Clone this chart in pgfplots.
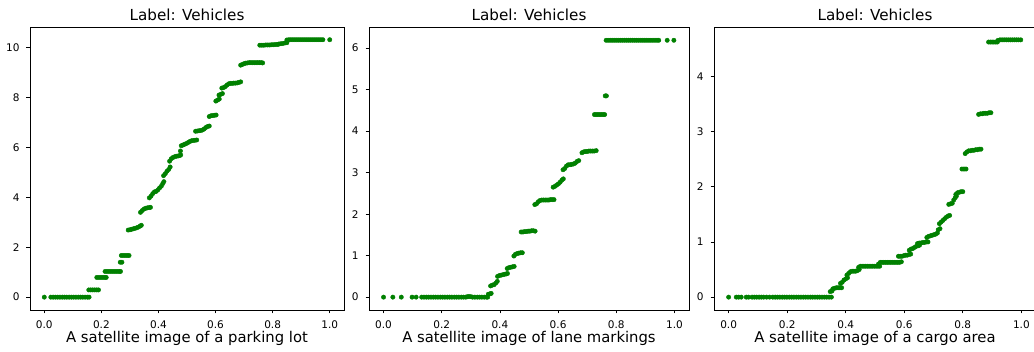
\documentclass[border=0pt]{standalone}
\usepackage{fontspec}
\setmainfont{DejaVu Sans}
\usepackage{pgfplots}
\pgfplotsset{compat=1.18}

\definecolor{dotgreen}{RGB}{0,128,0}

\pgfplotsset{
  panel/.style={
    scale only axis,
    anchor=south west,
    height=283pt,
    xmin=-0.05, xmax=1.05,
    axis line style={line width=0.8pt, black},
    tick style={line width=0.8pt, black},
    tick align=outside,
    major tick length=3.5pt,
    xtick pos=bottom, ytick pos=left,
    xtick={0,0.2,0.4,0.6,0.8,1.0},
    xticklabel style={/pgf/number format/fixed, /pgf/number format/fixed zerofill, /pgf/number format/precision=1, yshift=-3.5pt},
    yticklabel style={xshift=-3.5pt},
    /pgf/number format/assume math mode=true,
    tick label style={font=\fontsize{10.5}{12}\selectfont},
    title style={font=\fontsize{15.2}{17}\selectfont, at={(0.5,1)}, anchor=base, yshift=0pt},
    xlabel style={font=\fontsize{14.8}{17}\selectfont, at={(0.5,0)}, anchor=base, yshift=-33pt},
    title={Label: Vehicles},
    clip=false,
  },
  dots/.style={only marks, mark=*, mark size=2.2pt, color=dotgreen, mark options={draw=dotgreen, fill=dotgreen}},
}

\begin{document}
\begin{tikzpicture}[x=1pt,y=1pt]
\path[use as bounding box] (0,0) rectangle (1034,352);

% ---------- parking lot ----------
\begin{axis}[panel, at={(30pt,42pt)}, width=314pt,
  ymin=-0.515, ymax=10.83, ytick={0,2,4,6,8,10},
  xlabel={A satellite image of a parking lot}]
\addplot[dots] coordinates {
(0,0)
(0.023,0)(0.031,0)(0.039,0)(0.047,0)(0.055,0)(0.063,0)(0.071,0)(0.079,0)(0.087,0)(0.095,0)(0.103,0)(0.111,0)(0.119,0)(0.127,0)(0.135,0)(0.143,0)(0.151,0)(0.157,0)
(0.156,0.29)(0.163,0.29)(0.170,0.29)(0.177,0.29)(0.184,0.29)(0.190,0.29)
(0.184,0.79)(0.191,0.79)(0.198,0.79)(0.205,0.79)(0.212,0.79)(0.217,0.79)
(0.213,1.03)(0.220,1.03)(0.227,1.03)(0.234,1.03)(0.241,1.03)(0.248,1.03)(0.255,1.03)(0.262,1.03)(0.267,1.03)
(0.266,1.40)(0.272,1.40)
(0.270,1.67)(0.277,1.67)(0.284,1.67)(0.291,1.67)(0.297,1.67)
(0.294,2.69)(0.300,2.70)(0.306,2.72)(0.312,2.74)(0.318,2.76)(0.324,2.78)(0.330,2.81)(0.336,2.85)(0.340,2.88)
(0.337,3.40)(0.343,3.47)(0.349,3.53)(0.355,3.56)(0.361,3.58)(0.367,3.59)(0.372,3.60)
(0.368,3.98)(0.374,4.05)(0.380,4.15)(0.386,4.22)(0.392,4.24)(0.398,4.30)(0.404,4.38)(0.410,4.45)(0.415,4.55)(0.419,4.63)
(0.418,4.87)(0.424,4.95)(0.430,5.05)(0.436,5.12)(0.441,5.22)
(0.439,5.45)(0.445,5.55)(0.451,5.60)(0.457,5.63)(0.463,5.65)(0.469,5.66)(0.475,5.68)(0.478,5.70)(0.477,5.86)
(0.480,6.07)(0.486,6.10)(0.492,6.13)(0.498,6.16)(0.504,6.20)(0.510,6.24)(0.516,6.27)(0.522,6.28)(0.528,6.29)(0.534,6.30)
(0.530,6.65)(0.536,6.66)(0.542,6.67)(0.548,6.68)(0.554,6.70)(0.560,6.74)(0.566,6.80)(0.572,6.84)(0.578,6.86)
(0.578,7.24)(0.584,7.27)(0.590,7.28)(0.596,7.29)(0.602,7.30)
(0.601,7.86)(0.607,7.90)(0.613,7.94)
(0.612,8.10)(0.618,8.13)(0.624,8.16)
(0.622,8.38)(0.628,8.40)(0.634,8.44)(0.640,8.50)(0.646,8.55)(0.652,8.57)(0.658,8.57)(0.664,8.58)(0.670,8.58)(0.676,8.59)(0.682,8.61)(0.688,8.63)
(0.688,9.30)(0.694,9.33)(0.700,9.36)(0.706,9.38)(0.712,9.39)(0.718,9.40)(0.724,9.40)(0.730,9.40)(0.736,9.40)(0.742,9.40)(0.748,9.40)(0.754,9.40)(0.760,9.40)(0.765,9.39)
(0.755,10.10)(0.762,10.10)(0.769,10.10)(0.776,10.11)(0.783,10.11)(0.790,10.11)(0.797,10.12)(0.804,10.12)(0.811,10.13)(0.818,10.13)
(0.822,10.15)(0.829,10.16)(0.836,10.17)(0.843,10.19)(0.850,10.20)
(0.850,10.31)(0.857,10.32)(0.864,10.32)(0.871,10.32)(0.878,10.32)(0.885,10.32)(0.892,10.32)(0.899,10.32)(0.906,10.32)(0.913,10.32)(0.920,10.32)(0.927,10.32)(0.934,10.32)(0.941,10.32)(0.948,10.32)(0.955,10.32)(0.962,10.32)(0.969,10.32)(0.976,10.32)
(1.0,10.32)
};
\end{axis}

% ---------- lane markings ----------
\begin{axis}[panel, at={(369pt,42pt)}, width=320pt,
  ymin=-0.31, ymax=6.51, ytick={0,1,2,3,4,5,6},
  xlabel={A satellite image of lane markings}]
\addplot[dots] coordinates {
(0,0)(0.032,0)(0.061,0)(0.098,0)(0.112,0)
(0.131,0)(0.139,0)(0.147,0)(0.155,0)(0.163,0)(0.171,0)(0.179,0)(0.187,0)(0.195,0)(0.203,0)(0.211,0)(0.219,0)(0.227,0)(0.235,0)(0.243,0)(0.251,0)(0.259,0)(0.267,0)(0.275,0)(0.283,0)
(0.288,0.01)(0.294,0.015)(0.300,0.01)
(0.306,0)(0.314,0)(0.322,0)(0.330,0)(0.338,0)(0.346,0)(0.354,0)(0.358,0)
(0.360,0.07)(0.366,0.08)(0.370,0.09)
(0.368,0.27)(0.374,0.29)(0.380,0.30)(0.386,0.34)(0.391,0.38)
(0.392,0.50)(0.398,0.52)(0.404,0.53)(0.410,0.54)(0.416,0.55)(0.422,0.56)(0.426,0.57)
(0.425,0.69)(0.431,0.71)(0.437,0.72)(0.443,0.73)(0.449,0.74)
(0.448,0.99)(0.453,1.03)(0.459,1.05)(0.465,1.06)(0.471,1.07)(0.477,1.07)
(0.473,1.57)(0.479,1.57)(0.485,1.58)(0.491,1.58)(0.497,1.59)(0.503,1.59)(0.509,1.60)(0.515,1.60)(0.521,1.59)
(0.520,2.23)(0.526,2.25)(0.532,2.30)(0.538,2.33)(0.544,2.34)(0.550,2.34)(0.556,2.34)(0.562,2.34)(0.568,2.34)(0.574,2.35)(0.580,2.35)(0.586,2.35)
(0.583,2.65)(0.589,2.67)(0.595,2.70)(0.601,2.73)(0.607,2.77)(0.613,2.82)(0.618,2.85)
(0.617,3.07)(0.623,3.10)(0.629,3.16)(0.635,3.19)(0.641,3.19)(0.647,3.20)(0.653,3.21)(0.659,3.23)(0.665,3.27)(0.671,3.29)
(0.682,3.48)(0.688,3.50)(0.694,3.51)(0.700,3.51)(0.706,3.52)(0.712,3.52)(0.718,3.52)(0.724,3.52)(0.731,3.53)
(0.725,4.40)(0.731,4.40)(0.737,4.40)(0.743,4.40)(0.749,4.40)(0.755,4.40)(0.760,4.40)
(0.762,4.85)(0.766,4.85)
(0.765,6.19)(0.772,6.19)(0.779,6.19)(0.786,6.19)(0.793,6.19)(0.800,6.19)(0.807,6.19)(0.814,6.19)(0.821,6.19)(0.828,6.19)(0.835,6.19)(0.842,6.19)(0.849,6.19)(0.856,6.19)(0.863,6.19)(0.870,6.19)(0.877,6.19)(0.884,6.19)(0.891,6.19)(0.898,6.19)
(0.905,6.19)(0.912,6.19)(0.919,6.19)(0.926,6.19)(0.933,6.19)(0.940,6.19)(0.946,6.19)
(0.975,6.19)(0.998,6.19)
};
\end{axis}

% ---------- cargo area ----------
\begin{axis}[panel, at={(714pt,42pt)}, width=322pt,
  ymin=-0.233, ymax=4.893, ytick={0,1,2,3,4},
  xlabel={A satellite image of a cargo area}]
\addplot[dots] coordinates {
(0,0)(0.026,0)(0.034,0)(0.043,0)
(0.060,0)(0.068,0)(0.080,0)(0.088,0)(0.096,0)(0.104,0)(0.112,0)(0.120,0)(0.130,0)(0.140,0)
(0.151,0)(0.159,0)(0.167,0)(0.175,0)(0.183,0)(0.191,0)(0.199,0)(0.207,0)(0.215,0)(0.223,0)(0.231,0)(0.239,0)(0.247,0)(0.255,0)(0.263,0)(0.271,0)(0.279,0)(0.287,0)(0.295,0)(0.303,0)(0.311,0)(0.319,0)(0.327,0)(0.335,0)(0.343,0)(0.351,0)
(0.347,0.10)(0.353,0.11)
(0.356,0.15)(0.362,0.16)(0.368,0.17)(0.374,0.17)(0.380,0.17)(0.386,0.17)
(0.382,0.25)(0.388,0.27)(0.394,0.31)(0.400,0.33)(0.406,0.35)
(0.404,0.40)(0.410,0.43)(0.416,0.46)(0.422,0.47)(0.428,0.47)(0.434,0.47)(0.440,0.48)(0.446,0.50)
(0.444,0.54)(0.450,0.56)(0.456,0.56)(0.462,0.56)(0.468,0.56)(0.474,0.56)(0.480,0.56)(0.486,0.56)(0.492,0.56)(0.498,0.56)(0.504,0.56)(0.510,0.56)(0.516,0.56)
(0.512,0.60)(0.518,0.63)(0.524,0.63)(0.530,0.63)(0.536,0.63)(0.542,0.63)(0.548,0.63)(0.554,0.63)(0.560,0.63)(0.566,0.63)(0.572,0.63)(0.578,0.63)(0.584,0.63)(0.590,0.64)
(0.580,0.74)(0.586,0.74)(0.592,0.74)(0.598,0.75)(0.604,0.76)(0.610,0.76)(0.616,0.77)(0.622,0.78)
(0.617,0.85)(0.623,0.87)(0.629,0.88)(0.635,0.90)(0.641,0.92)(0.647,0.93)(0.652,0.94)
(0.645,0.97)(0.651,0.98)(0.657,0.98)(0.663,0.99)(0.669,0.99)(0.675,1.00)(0.681,1.00)
(0.677,1.08)(0.683,1.10)(0.689,1.11)(0.695,1.12)(0.701,1.13)(0.707,1.14)(0.713,1.16)
(0.716,1.22)(0.722,1.24)
(0.720,1.33)(0.726,1.36)(0.732,1.39)(0.738,1.42)(0.744,1.45)(0.750,1.47)(0.755,1.48)
(0.752,1.68)(0.758,1.69)(0.764,1.70)(0.769,1.76)(0.774,1.80)(0.778,1.83)
(0.776,1.86)(0.782,1.89)(0.788,1.90)(0.794,1.91)(0.800,1.91)
(0.797,2.32)(0.804,2.32)(0.811,2.32)
(0.808,2.60)(0.814,2.63)(0.820,2.65)(0.826,2.65)(0.832,2.66)(0.838,2.66)(0.844,2.67)(0.850,2.67)(0.856,2.68)(0.862,2.68)
(0.854,3.31)(0.860,3.32)(0.866,3.32)(0.872,3.33)(0.878,3.33)(0.884,3.33)(0.890,3.34)(0.896,3.34)
(0.888,4.62)(0.894,4.62)(0.900,4.62)(0.906,4.62)(0.912,4.62)(0.918,4.62)
(0.920,4.65)(0.927,4.66)(0.934,4.66)(0.941,4.66)(0.948,4.66)(0.955,4.66)(0.962,4.66)(0.969,4.66)(0.976,4.66)(0.983,4.66)(0.990,4.66)(0.998,4.66)
};
\end{axis}
\end{tikzpicture}
\end{document}
